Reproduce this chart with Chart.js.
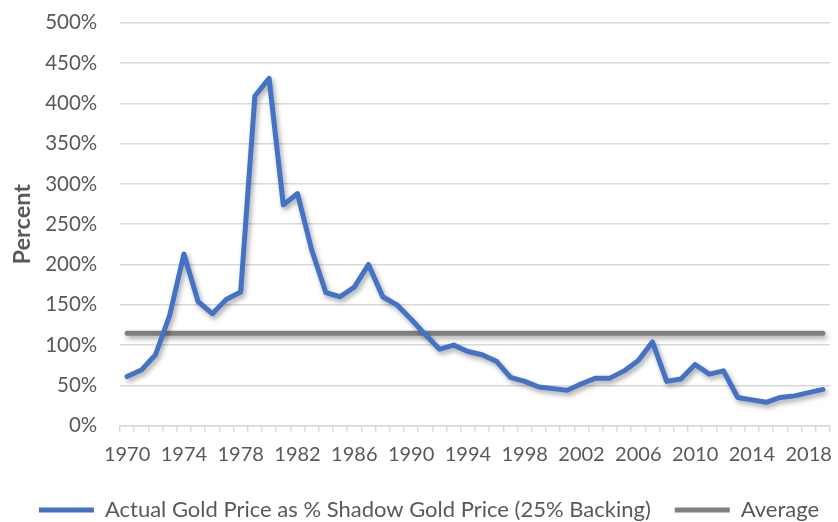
<!DOCTYPE html>
<html>
<head>
<meta charset="utf-8">
<script src="https://cdn.jsdelivr.net/npm/chart.js@4.4.1/dist/chart.umd.min.js"></script>
<style>
  html, body { margin: 0; padding: 0; background: #fff; }
  canvas { display: block; }
</style>
</head>
<body>
<canvas id="gold-chart" width="838" height="522"></canvas>
<script>
'use strict';

var years = [];
for (var y = 1970; y <= 2019; y++) years.push(String(y));

// actual gold price as % of shadow gold price
var goldPct = [
  61, 69, 88, 137, 213, 154, 139, 157, 166, 409,
  431, 274, 288, 218, 165, 160, 172, 200, 160, 150,
  132, 113, 95, 100, 92, 88, 80, 60, 55, 48,
  46, 44, 52, 59, 59, 68, 81, 104, 55, 58,
  76, 64, 68, 35, 32, 29, 35, 37, 41, 45
];
var averagePct = 114.6;
var averageLine = years.map(function() { return averagePct; });

var yTicks = [0, 50, 100, 150, 200, 250, 300, 350, 400, 450, 500];

var seriesNames = ['Actual Gold Price as % Shadow Gold Price (25% Backing)', 'Average'];

var FONT = "Lato, 'Open Sans', sans-serif";
var TEXT = '#595959';
var GRID = '#d9d9d9';

// soft drop shadow under the lines, like the original
var shadowPlugin = {
  id: 'lineShadow',
  beforeDatasetsDraw: function(chart) {
    var ctx = chart.ctx;
    ctx.save();
    ctx.shadowColor = 'rgba(0,0,0,0.35)';
    ctx.shadowBlur = 5;
    ctx.shadowOffsetX = 2;
    ctx.shadowOffsetY = 3;
  },
  afterDatasetsDraw: function(chart) {
    chart.ctx.restore();
  }
};

// legend sits a bit lower and further right than chart.js puts it
var legendNudge = {
  id: 'legendNudge',
  afterLayout: function(chart) {
    var lg = chart.legend;
    lg.left += 14; lg.right += 14;
    lg.top += 9; lg.bottom += 9;
  }
};

var context = document.getElementById('gold-chart').getContext('2d');
var chart = new Chart(context, {
  type: 'line',
  data: {
    labels: years,
    datasets: [{
      label: seriesNames[0],
      data: goldPct,
      borderColor: '#4472c4',
      backgroundColor: '#4472c4',
      borderWidth: 5,
      borderCapStyle: 'round',
      borderJoinStyle: 'round',
      pointRadius: 0,
      tension: 0
    }, {
      label: seriesNames[1],
      data: averageLine,
      borderColor: '#7f7f7f',
      backgroundColor: '#7f7f7f',
      borderWidth: 5,
      borderCapStyle: 'round',
      pointRadius: 0,
      tension: 0
    }]
  },
  plugins: [shadowPlugin, legendNudge],
  options: {
    responsive: false,
    animation: false,
    devicePixelRatio: 1,
    layout: { padding: { top: 0, right: 8, left: 0, bottom: 0 } },
    plugins: {
      tooltip: { enabled: false },
      legend: {
        position: 'bottom',
        labels: {
          usePointStyle: true,
          pointStyle: 'line',
          pointStyleWidth: 55,
          boxHeight: 5,
          padding: 24,
          color: TEXT,
          font: { family: FONT, size: 22 }
        }
      }
    },
    scales: {
      x: {
        type: 'category',
        offset: true,
        grid: {
          offset: true,
          drawOnChartArea: false,
          drawTicks: true,
          tickLength: 6,
          color: GRID,
          lineWidth: 1.5
        },
        border: { display: true, color: GRID, width: 1.5 },
        ticks: {
          autoSkip: false,
          maxRotation: 0,
          padding: 11,
          color: TEXT,
          font: { family: FONT, size: 20 },
          callback: function(val, i) {
            return i % 4 === 0 ? years[i] : '';
          }
        },
        afterFit: function(scale) { scale.height = 40.3; }
      },
      y: {
        min: 0,
        max: 500,
        afterBuildTicks: function(scale) {
          scale.ticks = yTicks.map(function(v) { return { value: v }; });
        },
        grid: { color: GRID, lineWidth: 1.5, drawTicks: false },
        border: { display: false },
        ticks: {
          padding: 22.7,
          color: TEXT,
          // lineHeight 0 keeps the top label from pushing the plot down
          font: { family: FONT, size: 20.5, lineHeight: 0 },
          callback: function(v) { return v + '%'; }
        },
        title: {
          display: true,
          text: 'Percent',
          color: TEXT,
          padding: { top: 8, bottom: 0 },
          font: { family: FONT, size: 23.5, weight: 'bold' }
        },
        afterFit: function(scale) { scale.width = 120; }
      }
    }
  }
});
</script>
</body>
</html>
